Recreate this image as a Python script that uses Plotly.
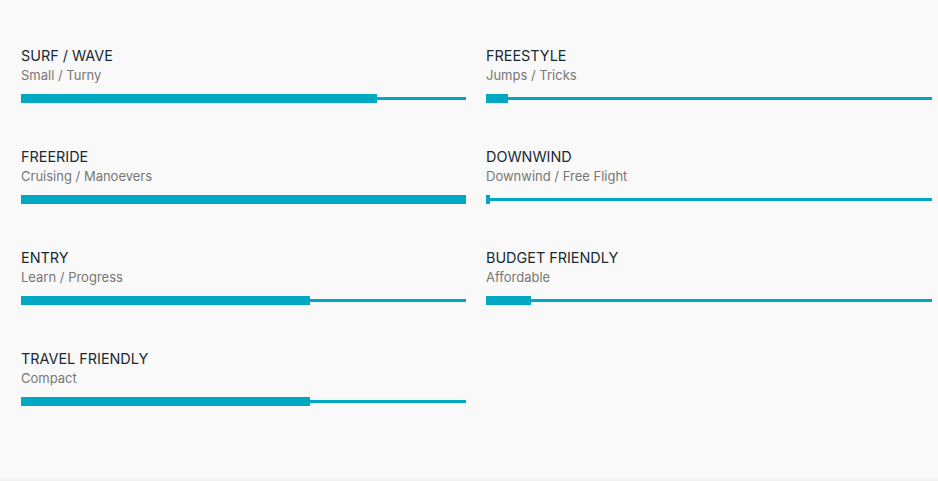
import plotly.graph_objects as go

# ratings, 0-100
titles = ['SURF / WAVE', 'FREERIDE', 'ENTRY', 'TRAVEL FRIENDLY',
          'FREESTYLE', 'DOWNWIND', 'BUDGET FRIENDLY']
subtitles = ['Small / Turny', 'Cruising / Manoevers', 'Learn / Progress', 'Compact',
             'Jumps / Tricks', 'Downwind / Free Flight', 'Affordable']
scores = [80, 100, 65, 65, 5, 1, 10]
columns = [0, 0, 0, 0, 1, 1, 1]
rows = [0, 1, 2, 3, 0, 1, 2]
max_score = 100

teal = '#00a8c4'
W, H = 938, 481
row_px = 101.0
first_bar_px = 98.5

fig = go.Figure()

for col in (0, 1):
    idx = [i for i in range(len(titles)) if columns[i] == col]
    xa = 'x' if col == 0 else 'x2'
    # thin track
    fig.add_trace(go.Bar(x=[max_score] * len(idx), y=[rows[i] for i in idx],
                         orientation='h', width=3 / row_px, marker=dict(color=teal, line_width=0),
                         xaxis=xa, yaxis='y', hoverinfo='skip', showlegend=False))
    # score bar
    fig.add_trace(go.Bar(x=[scores[i] for i in idx], y=[rows[i] for i in idx],
                         orientation='h', width=9 / row_px, marker=dict(color=teal, line_width=0),
                         xaxis=xa, yaxis='y', showlegend=False,
                         hovertemplate='%{x}<extra></extra>'))

for i in range(len(titles)):
    xr = 'x domain' if columns[i] == 0 else 'x2 domain'
    fig.add_annotation(text=titles[i], xref=xr, yref='y', x=0, y=rows[i] - 43.5 / row_px,
                       xanchor='left', yanchor='middle', showarrow=False, xshift=-2,
                       font=dict(family='Inter', size=14.4, color='#172a33'))
    fig.add_annotation(text=subtitles[i], xref=xr, yref='y', x=0, y=rows[i] - 23.5 / row_px,
                       xanchor='left', yanchor='middle', showarrow=False, xshift=-2,
                       font=dict(family='Inter', size=13, color='#777777'))

y_top = -first_bar_px / row_px
y_bot = (H - first_bar_px) / row_px

fig.update_layout(
    width=W, height=H,
    margin=dict(l=0, r=0, t=0, b=0),
    paper_bgcolor='#f9f9f9', plot_bgcolor='#f9f9f9',
    barmode='overlay', bargap=0,
    xaxis=dict(domain=[21 / W, 466 / W], range=[0, max_score], visible=False, fixedrange=True),
    xaxis2=dict(domain=[486 / W, 932 / W], range=[0, max_score], visible=False, fixedrange=True),
    yaxis=dict(range=[y_bot, y_top], visible=False, fixedrange=True),
    shapes=[dict(type='line', xref='paper', yref='paper', x0=0, x1=1, y0=1 / H, y1=1 / H,
                 line=dict(color='#eaeaea', width=1))],
)

fig.write_html('out.html', config={'displayModeBar': False},
               post_script="document.body.style.margin='0';")
